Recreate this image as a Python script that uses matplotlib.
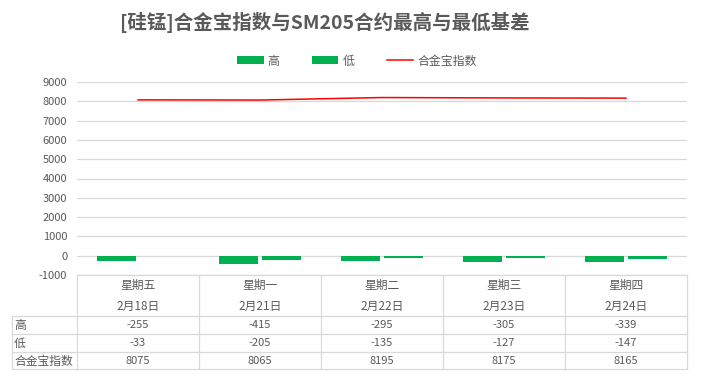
import matplotlib
matplotlib.use("Agg")
from matplotlib import pyplot as plt
import numpy as np

plt.rcParams['font.family'] = ['Noto Sans CJK SC', 'DejaVu Sans']

weekdays = ['星期五', '星期一', '星期二', '星期三', '星期四']
dates = ['2月18日', '2月21日', '2月22日', '2月23日', '2月24日']
high = [-255, -415, -295, -305, -339]
low = [-33, -205, -135, -127, -147]
index_vals = [8075, 8065, 8195, 8175, 8165]
yticks = [-1000, 0, 1000, 2000, 3000, 4000, 5000, 6000, 7000, 8000, 9000]

GREEN = '#00b050'
GREY = '#595959'
GRID = '#d9d9d9'
W, H = 701, 383

fig = plt.figure(figsize=(W / 100, H / 100), dpi=100)

def px_axes(x0, y0, x1, y1):
    # pixel box (top-left origin) -> figure axes
    return fig.add_axes([x0 / W, 1 - y1 / H, (x1 - x0) / W, (y1 - y0) / H])

ax = px_axes(77, 82, 687, 275)
x = np.arange(len(weekdays))
bw = 0.32
b1 = ax.bar(x - bw / 2 - 0.017, high, bw, color=GREEN, label='高')
b2 = ax.bar(x + bw / 2 + 0.017, low, bw, color=GREEN, label='低')
ln, = ax.plot(x, index_vals, color='#ff0000', lw=1.1, label='合金宝指数')
ax.set_xlim(-0.5, len(weekdays) - 0.5)
ax.set_ylim(-1000, 9000)
ax.set_yticks(yticks)
ax.set_yticklabels([str(v) for v in yticks])
ax.tick_params(axis='y', length=0, labelsize=8, labelcolor=GREY, pad=7)
ax.set_xticks([])
ax.grid(axis='y', color=GRID, lw=0.9)
ax.set_axisbelow(True)
for s in ax.spines.values():
    s.set_visible(False)

# data table below the plot
tb = px_axes(12, 275, 687, 370)
tb.set_xlim(12, 687)
tb.set_ylim(370, 275)
tb.axis('off')
col_edges = [77 + 122 * i for i in range(len(weekdays) + 1)]
lk = dict(color=GRID, lw=0.9, clip_on=False)
tb.plot([77, 687], [275, 275], **lk)
for yy in [316, 334, 352, 369]:
    tb.plot([12, 687], [yy, yy], **lk)
tb.plot([12, 12], [316, 369], **lk)
for xe in col_edges:
    tb.plot([xe, xe], [275, 369], **lk)

rows = [('高', high, 325), ('低', low, 343), ('合金宝指数', index_vals, 361)]
for i in range(len(weekdays)):
    cx = col_edges[i] + 61
    tb.text(cx, 285, weekdays[i], ha='center', va='center', fontsize=8.5, color=GREY)
    tb.text(cx, 306, dates[i], ha='center', va='center', fontsize=8.5, color=GREY)
    for name, vals, yy in rows:
        tb.text(cx, yy, str(vals[i]), ha='center', va='center', fontsize=8, color=GREY)
for name, vals, yy in rows:
    tb.text(14, yy, name, ha='left', va='center', fontsize=8.5, color=GREY)

fig.text(325 / W, 1 - 22 / H, '[硅锰]合金宝指数与SM205合约最高与最低基差',
         ha='center', va='center', fontsize=14, fontweight='bold', color=GREY)

fig.legend(handles=[b1, b2, ln], labels=['高', '低', '合金宝指数'],
           loc='center', bbox_to_anchor=(357 / W, 1 - 61 / H), ncol=3,
           frameon=False, fontsize=8.6, labelcolor=GREY, handlelength=2.2,
           handleheight=0.65, handletextpad=0.33, columnspacing=2.75)

fig.savefig('out.png', dpi=100)
